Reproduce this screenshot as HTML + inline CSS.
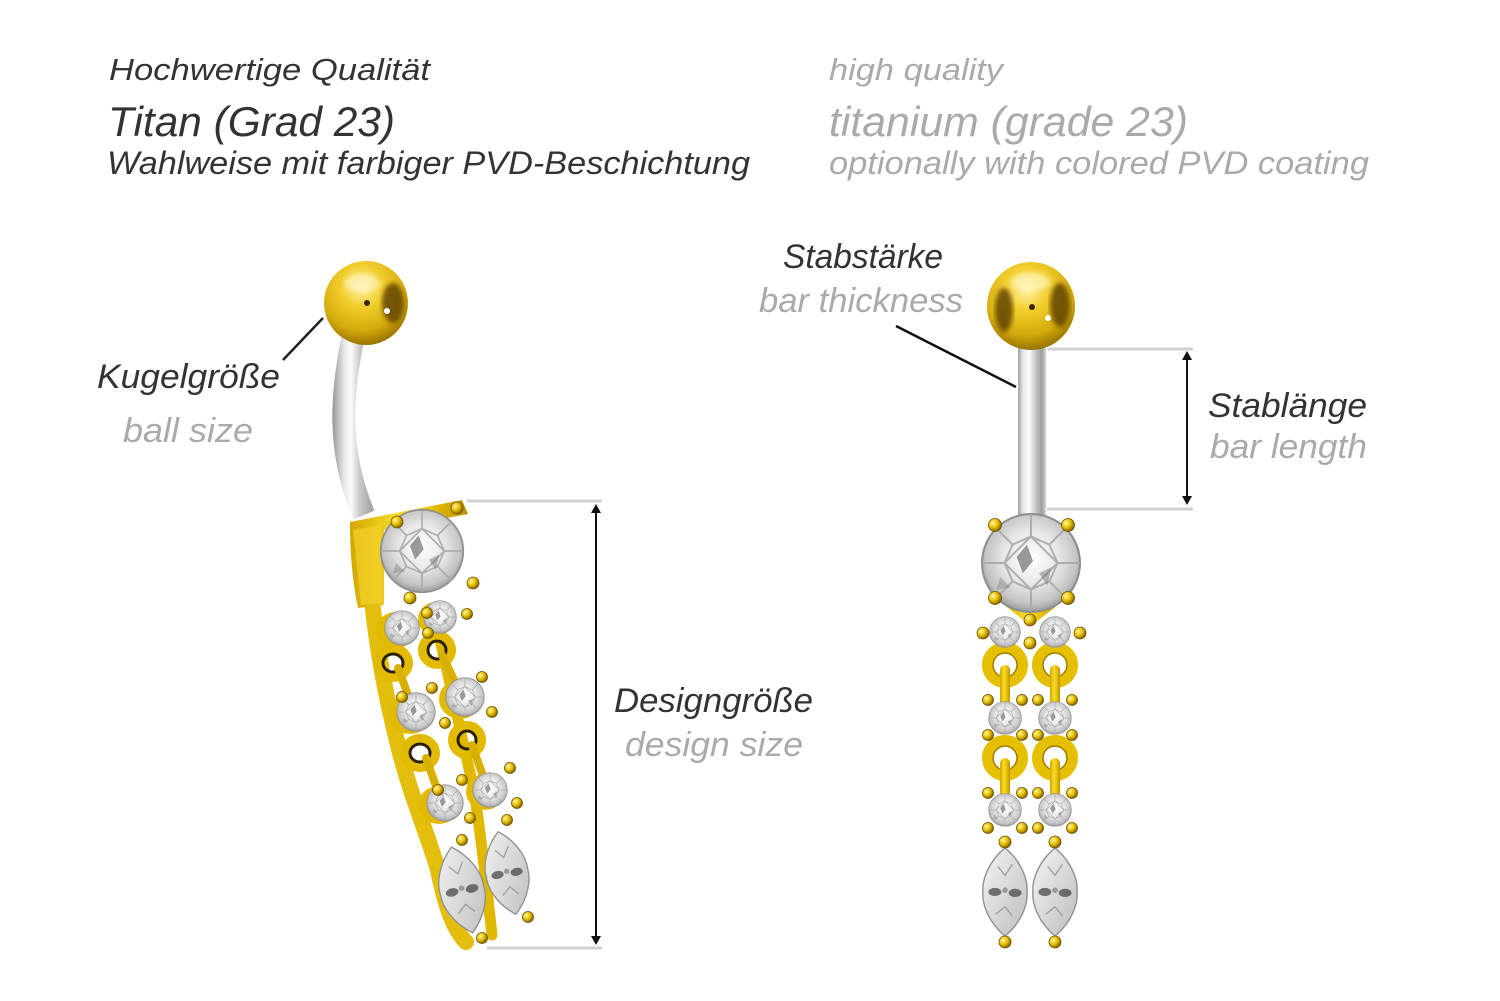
<!DOCTYPE html>
<html>
<head>
<meta charset="utf-8">
<style>
html,body{margin:0;padding:0;background:#fff;}
svg{display:block;}
text{font-family:"Liberation Sans",Arial,sans-serif;font-style:italic;}
</style>
</head>
<body>
<svg width="1500" height="1001" viewBox="0 0 1500 1001" xmlns="http://www.w3.org/2000/svg">
<defs>
  <radialGradient id="gem" cx="50%" cy="45%" r="55%">
    <stop offset="0" stop-color="#ffffff"/>
    <stop offset="0.5" stop-color="#e8e8e8"/>
    <stop offset="0.85" stop-color="#c4c4c4"/>
    <stop offset="1" stop-color="#9a9a9a"/>
  </radialGradient>
  <linearGradient id="marq" x1="0" y1="0" x2="1" y2="1">
    <stop offset="0" stop-color="#f4f4f4"/>
    <stop offset="0.5" stop-color="#d9d9d9"/>
    <stop offset="1" stop-color="#bdbdbd"/>
  </linearGradient>
  <radialGradient id="goldBall" cx="45%" cy="30%" r="70%">
    <stop offset="0" stop-color="#fff5b0"/>
    <stop offset="0.35" stop-color="#f2cf2e"/>
    <stop offset="0.75" stop-color="#d4aa0c"/>
    <stop offset="1" stop-color="#9a7400"/>
  </radialGradient>
  <radialGradient id="prong" cx="35%" cy="35%" r="70%">
    <stop offset="0" stop-color="#fff7a0"/>
    <stop offset="0.5" stop-color="#e8c000"/>
    <stop offset="1" stop-color="#7a5c00"/>
  </radialGradient>
  <linearGradient id="silverL" gradientUnits="userSpaceOnUse" x1="333" y1="0" x2="378" y2="0">
    <stop offset="0" stop-color="#9a9a9a"/>
    <stop offset="0.25" stop-color="#e9e9e9"/>
    <stop offset="0.4" stop-color="#fbfbfb"/>
    <stop offset="0.6" stop-color="#c9c9c9"/>
    <stop offset="0.85" stop-color="#a5a5a5"/>
    <stop offset="1" stop-color="#d0d0d0"/>
  </linearGradient>
  <linearGradient id="silverR" gradientUnits="userSpaceOnUse" x1="1018" y1="0" x2="1046" y2="0">
    <stop offset="0" stop-color="#a0a0a0"/>
    <stop offset="0.2" stop-color="#ececec"/>
    <stop offset="0.4" stop-color="#fdfdfd"/>
    <stop offset="0.6" stop-color="#cdcdcd"/>
    <stop offset="0.85" stop-color="#9e9e9e"/>
    <stop offset="1" stop-color="#d6d6d6"/>
  </linearGradient>
  <linearGradient id="gold" x1="0" y1="0" x2="1" y2="0">
    <stop offset="0" stop-color="#d2a600"/>
    <stop offset="0.4" stop-color="#f8dc2c"/>
    <stop offset="0.7" stop-color="#e8c000"/>
    <stop offset="1" stop-color="#b89000"/>
  </linearGradient>
  <filter id="blur2"><feGaussianBlur stdDeviation="2.5"/></filter>
  <symbol id="gemS" viewBox="-50 -50 100 100" overflow="visible">
    <circle r="48" fill="url(#gem)" stroke="#8e8e8e" stroke-width="2"/>
    <g stroke="#a9a9a9" stroke-width="2" fill="none" opacity="0.9">
      <polygon points="0,-26 18,-18 26,0 18,18 0,26 -18,18 -26,0 -18,-18"/>
      <path d="M0,-48 L0,-26 M34,-34 L18,-18 M48,0 L26,0 M34,34 L18,18 M0,48 L0,26 M-34,34 L-18,18 M-48,0 L-26,0 M-34,-34 L-18,-18"/>
      <path d="M0,-26 L26,0 L0,26 L-26,0 Z"/>
    </g>
    <polygon points="-14,-6 -4,-18 2,-2 -8,10" fill="#4a4a4a" opacity="0.55"/>
    <polygon points="8,10 20,4 16,22" fill="#6a6a6a" opacity="0.45"/>
    <polygon points="-30,14 -20,24 -34,26" fill="#777" opacity="0.4"/>
  </symbol>
  <symbol id="marqS" viewBox="-25 -50 50 100" overflow="visible">
    <path d="M0,-48 C19,-32 25,-12 24,0 C25,12 19,32 0,48 C-19,32 -25,12 -24,0 C-25,-12 -19,-32 0,-48Z" fill="url(#marq)" stroke="#909090" stroke-width="1.5"/>
    <ellipse cx="-11" cy="0" rx="7" ry="4.5" fill="#3e3e3e" opacity="0.7"/>
    <ellipse cx="11" cy="1" rx="7" ry="4.5" fill="#3e3e3e" opacity="0.7"/>
    <ellipse cx="0" cy="-2" rx="3" ry="3" fill="#555" opacity="0.5"/>
    <path d="M-8,-28 L0,-18 L8,-30 M-10,24 L0,16 L8,26" stroke="#888" stroke-width="1.5" fill="none" opacity="0.7"/>
  </symbol>
</defs>

<!-- Header text -->
<text x="109" y="80" font-size="31" fill="#333" textLength="321" lengthAdjust="spacingAndGlyphs">Hochwertige Qualität</text>
<text x="108" y="136" font-size="42" fill="#333" textLength="287" lengthAdjust="spacingAndGlyphs">Titan (Grad 23)</text>
<text x="107" y="174" font-size="32" fill="#333" textLength="643" lengthAdjust="spacingAndGlyphs">Wahlweise mit farbiger PVD-Beschichtung</text>

<text x="829" y="80" font-size="31" fill="#aaaaaa" textLength="174" lengthAdjust="spacingAndGlyphs">high quality</text>
<text x="829" y="136" font-size="42" fill="#aaaaaa" textLength="359" lengthAdjust="spacingAndGlyphs">titanium (grade 23)</text>
<text x="829" y="174" font-size="32" fill="#aaaaaa" textLength="540" lengthAdjust="spacingAndGlyphs">optionally with colored PVD coating</text>

<!-- Labels -->
<text x="97" y="388" font-size="34" fill="#333" textLength="183" lengthAdjust="spacingAndGlyphs">Kugelgröße</text>
<text x="123" y="442" font-size="34" fill="#aaaaaa" textLength="130" lengthAdjust="spacingAndGlyphs">ball size</text>

<text x="783" y="268" font-size="34" fill="#333" textLength="160" lengthAdjust="spacingAndGlyphs">Stabstärke</text>
<text x="759" y="312" font-size="34" fill="#aaaaaa" textLength="204" lengthAdjust="spacingAndGlyphs">bar thickness</text>

<text x="1208" y="417" font-size="34" fill="#333" textLength="159" lengthAdjust="spacingAndGlyphs">Stablänge</text>
<text x="1210" y="458" font-size="34" fill="#aaaaaa" textLength="157" lengthAdjust="spacingAndGlyphs">bar length</text>

<text x="614" y="712" font-size="34" fill="#333" textLength="199" lengthAdjust="spacingAndGlyphs">Designgröße</text>
<text x="625" y="756" font-size="34" fill="#aaaaaa" textLength="178" lengthAdjust="spacingAndGlyphs">design size</text>

<!-- Dimension lines -->
<g stroke="#d2d2d2" stroke-width="3">
  <line x1="1047" y1="349" x2="1193" y2="349"/>
  <line x1="1047" y1="509" x2="1193" y2="509"/>
  <line x1="467" y1="501" x2="602" y2="501"/>
  <line x1="487" y1="948" x2="602" y2="948"/>
</g>
<g stroke="#111" stroke-width="2">
  <line x1="1187" y1="356" x2="1187" y2="501"/>
  <line x1="596" y1="508" x2="596" y2="940"/>
</g>
<g fill="#111">
  <polygon points="1187,351 1182,360 1192,360"/>
  <polygon points="1187,505 1182,496 1192,496"/>
  <polygon points="596,504 591,513 601,513"/>
  <polygon points="596,945 591,936 601,936"/>
</g>
<line x1="283" y1="360" x2="323" y2="318" stroke="#222" stroke-width="2.5"/>
<line x1="896" y1="326" x2="1016" y2="387" stroke="#111" stroke-width="2.5"/>

<!-- ================= LEFT PIECE ================= -->
<path d="M353,338 C342,390 336,450 364,515" stroke="url(#silverL)" stroke-width="23" fill="none"/>
<circle cx="366" cy="303" r="42" fill="url(#goldBall)"/>
<ellipse cx="393" cy="303" rx="11" ry="20" fill="#5a3c00" opacity="0.8" filter="url(#blur2)"/>
<circle cx="367" cy="303" r="3" fill="#3a2800"/>
<circle cx="387" cy="311" r="3" fill="#fff"/>
<ellipse cx="362" cy="283" rx="18" ry="9" fill="#fff8c8" opacity="0.6" filter="url(#blur2)"/>

<!-- gold backbone left -->
<path d="M372,600 C376,640 384,690 398,745 C410,795 428,835 438,870 C444,900 452,928 466,942" stroke="#e4be0c" stroke-width="16" fill="none" stroke-linecap="round"/>
<path d="M440,640 C452,690 462,740 474,790 C480,830 486,880 492,935" stroke="#e0b800" stroke-width="11" fill="none" stroke-linecap="round"/>
<!-- setting block -->
<path d="M350,522 L462,500 L468,514 L384,530 L384,605 L358,608 C352,580 350,550 350,522Z" fill="url(#gold)"/>
<path d="M353,530 L381,525 L381,603 L361,605Z" fill="#f3d12a" opacity="0.7"/>
<!-- gold cups behind stones -->
<g fill="#e2bb00">
  <ellipse cx="396" cy="630" rx="20" ry="18"/>
  <ellipse cx="436" cy="619" rx="18" ry="17"/>
  <ellipse cx="410" cy="714" rx="22" ry="20"/>
  <ellipse cx="460" cy="699" rx="21" ry="20"/>
  <ellipse cx="439" cy="805" rx="21" ry="19"/>
  <ellipse cx="485" cy="792" rx="19" ry="18"/>
</g>
<!-- rings -->
<g fill="none">
  <ellipse cx="393" cy="663" rx="15" ry="14" stroke="#e2bb00" stroke-width="10"/>
  <ellipse cx="393" cy="663" rx="10" ry="9" stroke="#2c2000" stroke-width="3"/>
  <ellipse cx="437" cy="650" rx="14" ry="14" stroke="#e2bb00" stroke-width="10"/>
  <ellipse cx="437" cy="650" rx="9" ry="9" stroke="#2c2000" stroke-width="3"/>
  <ellipse cx="420" cy="753" rx="15" ry="14" stroke="#e2bb00" stroke-width="10"/>
  <ellipse cx="420" cy="753" rx="10" ry="9" stroke="#2c2000" stroke-width="3"/>
  <ellipse cx="467" cy="740" rx="14" ry="14" stroke="#e2bb00" stroke-width="10"/>
  <ellipse cx="467" cy="740" rx="9" ry="9" stroke="#2c2000" stroke-width="3"/>
</g>
<g stroke="#d9b000" stroke-width="8" stroke-linecap="round">
  <line x1="398" y1="668" x2="408" y2="695"/>
  <line x1="442" y1="655" x2="455" y2="682"/>
  <line x1="426" y1="758" x2="436" y2="786"/>
  <line x1="472" y1="745" x2="482" y2="773"/>
</g>
<!-- stones left -->
<use href="#gemS" x="379" y="508" width="86" height="86"/>
<use href="#gemS" x="384" y="610" width="36" height="36"/>
<use href="#gemS" x="423" y="600" width="34" height="34"/>
<use href="#gemS" x="396" y="692" width="40" height="40"/>
<use href="#gemS" x="445" y="677" width="40" height="40"/>
<use href="#gemS" x="426" y="784" width="38" height="38"/>
<use href="#gemS" x="472" y="772" width="36" height="36"/>
<use href="#marqS" x="439" y="841" width="46" height="98" transform="rotate(-14 462 890)"/>
<use href="#marqS" x="485" y="827" width="44" height="92" transform="rotate(-12 507 873)"/>
<!-- prongs left -->
<g fill="url(#prong)" stroke="#6b5000" stroke-width="0.8">
  <circle cx="457" cy="508" r="6"/>
  <circle cx="397" cy="522" r="6"/>
  <circle cx="473" cy="583" r="6"/>
  <circle cx="410" cy="598" r="6"/>
  <circle cx="427" cy="613" r="5.5"/>
  <circle cx="467" cy="614" r="5.5"/>
  <circle cx="428" cy="633" r="5.5"/>
  <circle cx="402" cy="697" r="5.5"/>
  <circle cx="432" cy="688" r="5.5"/>
  <circle cx="482" cy="677" r="5.5"/>
  <circle cx="492" cy="712" r="5.5"/>
  <circle cx="445" cy="723" r="5.5"/>
  <circle cx="462" cy="780" r="5.5"/>
  <circle cx="510" cy="768" r="5.5"/>
  <circle cx="517" cy="803" r="5.5"/>
  <circle cx="470" cy="818" r="5.5"/>
  <circle cx="438" cy="790" r="5.5"/>
  <circle cx="507" cy="820" r="5.5"/>
  <circle cx="462" cy="840" r="5.5"/>
  <circle cx="482" cy="938" r="5.5"/>
  <circle cx="528" cy="917" r="5.5"/>
</g>

<!-- ================= RIGHT PIECE ================= -->
<rect x="1018" y="342" width="28" height="175" fill="url(#silverR)"/>
<circle cx="1031" cy="306" r="44" fill="url(#goldBall)"/>
<ellipse cx="1004" cy="310" rx="9" ry="22" fill="#5a3c00" opacity="0.8" filter="url(#blur2)"/>
<ellipse cx="1060" cy="305" rx="10" ry="22" fill="#5a3c00" opacity="0.8" filter="url(#blur2)"/>
<circle cx="1032" cy="307" r="3" fill="#3a2800"/>
<circle cx="1048" cy="318" r="3" fill="#fff"/>
<ellipse cx="1031" cy="282" rx="20" ry="9" fill="#fff8c8" opacity="0.6" filter="url(#blur2)"/>

<polygon points="1003,604 1059,604 1031,626" fill="url(#gold)"/>
<g fill="none">
  <circle cx="1005" cy="665" r="17.5" stroke="#e6c000" stroke-width="11"/>
  <circle cx="1005" cy="665" r="12" stroke="#a07d00" stroke-width="1.5"/>
  <circle cx="1055" cy="665" r="17.5" stroke="#e6c000" stroke-width="11"/>
  <circle cx="1055" cy="665" r="12" stroke="#a07d00" stroke-width="1.5"/>
  <circle cx="1005" cy="758" r="17.5" stroke="#e6c000" stroke-width="11"/>
  <circle cx="1005" cy="758" r="12" stroke="#a07d00" stroke-width="1.5"/>
  <circle cx="1055" cy="758" r="17.5" stroke="#e6c000" stroke-width="11"/>
  <circle cx="1055" cy="758" r="12" stroke="#a07d00" stroke-width="1.5"/>
</g>
<g fill="url(#gold)">
  <rect x="1000" y="665" width="10" height="42" rx="5"/>
  <rect x="1050" y="665" width="10" height="42" rx="5"/>
  <rect x="1000" y="758" width="10" height="40" rx="5"/>
  <rect x="1050" y="758" width="10" height="40" rx="5"/>
</g>
<use href="#gemS" x="980" y="512" width="102" height="102"/>
<use href="#gemS" x="989" y="616" width="32" height="32"/>
<use href="#gemS" x="1039" y="616" width="32" height="32"/>
<use href="#gemS" x="988" y="701" width="34" height="34"/>
<use href="#gemS" x="1038" y="701" width="34" height="34"/>
<use href="#gemS" x="988" y="793" width="34" height="34"/>
<use href="#gemS" x="1038" y="793" width="34" height="34"/>
<use href="#marqS" x="982" y="846" width="46" height="92"/>
<use href="#marqS" x="1032" y="846" width="46" height="92"/>
<g fill="url(#prong)" stroke="#6b5000" stroke-width="0.8">
  <circle cx="995" cy="525" r="6.5"/>
  <circle cx="1068" cy="525" r="6.5"/>
  <circle cx="995" cy="598" r="6.5"/>
  <circle cx="1068" cy="598" r="6.5"/>
  <circle cx="1030" cy="620" r="6"/>
  <circle cx="1030" cy="643" r="6"/>
  <circle cx="983" cy="633" r="6"/>
  <circle cx="1080" cy="633" r="6"/>
  <circle cx="988" cy="700" r="5.5"/>
  <circle cx="1022" cy="700" r="5.5"/>
  <circle cx="988" cy="735" r="5.5"/>
  <circle cx="1022" cy="735" r="5.5"/>
  <circle cx="1038" cy="700" r="5.5"/>
  <circle cx="1072" cy="700" r="5.5"/>
  <circle cx="1038" cy="735" r="5.5"/>
  <circle cx="1072" cy="735" r="5.5"/>
  <circle cx="988" cy="793" r="5.5"/>
  <circle cx="1022" cy="793" r="5.5"/>
  <circle cx="988" cy="828" r="5.5"/>
  <circle cx="1022" cy="828" r="5.5"/>
  <circle cx="1038" cy="793" r="5.5"/>
  <circle cx="1072" cy="793" r="5.5"/>
  <circle cx="1038" cy="828" r="5.5"/>
  <circle cx="1072" cy="828" r="5.5"/>
  <circle cx="1005" cy="842" r="6"/>
  <circle cx="1055" cy="842" r="6"/>
  <circle cx="1005" cy="942" r="6"/>
  <circle cx="1055" cy="942" r="6"/>
</g>
</svg>
</body>
</html>
